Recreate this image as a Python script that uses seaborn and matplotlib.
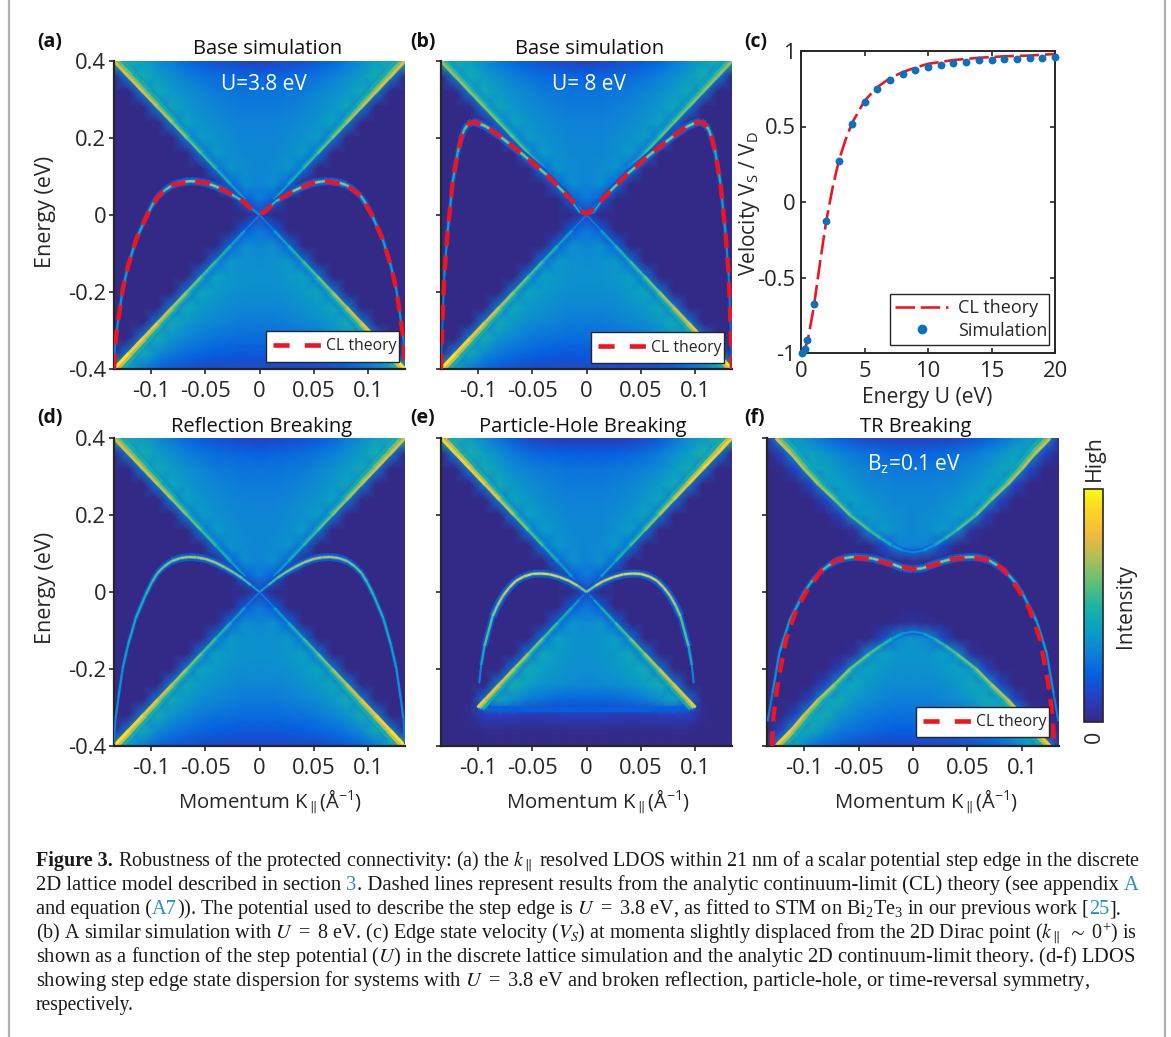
import numpy as np
import matplotlib
matplotlib.use("Agg")
import matplotlib.pyplot as plt
import seaborn as sns
from matplotlib.colors import LinearSegmentedColormap
from matplotlib.collections import LineCollection
from matplotlib.lines import Line2D

W, H = 1171, 1037
sns.set_theme(style="ticks")
plt.rcParams["font.family"] = ["Open Sans", "DejaVu Sans"]
plt.rcParams["mathtext.fontset"] = "stix"
plt.rcParams["mathtext.default"] = "regular"
plt.rcParams["axes.unicode_minus"] = False

# ---------- values ----------
# LDOS cells: rows E = 0.4 .. -0.4, columns k = -0.134 .. 0 (mirrored on the right)
BASE_Z = [
 [.50,.46,.40,.33,.27,.22,.19,.16,.14,.12,.11],
 [0,.28,.46,.39,.34,.29,.26,.24,.23,.22,.21],
 [0,0,.27,.44,.38,.34,.31,.28,.27,.26,.26],
 [0,0,0,.27,.43,.37,.33,.31,.29,.28,.28],
 [0,0,0,0,.26,.41,.36,.33,.31,.30,.30],
 [0,0,0,0,0,.26,.39,.35,.33,.31,.31],
 [0,0,0,0,0,0,.25,.38,.34,.32,.32],
 [0,0,0,0,0,0,0,.24,.36,.33,.32],
 [0,0,0,0,0,0,0,0,.22,.34,.31],
 [0,0,0,0,0,0,0,0,0,.19,.28],
 [0,0,0,0,0,0,0,0,0,0,.12],
 [0,0,0,0,0,0,0,0,0,.19,.28],
 [0,0,0,0,0,0,0,0,.22,.34,.32],
 [0,0,0,0,0,0,0,.24,.37,.35,.34],
 [0,0,0,0,0,0,.25,.40,.37,.35,.35],
 [0,0,0,0,0,.26,.42,.38,.35,.34,.34],
 [0,0,0,0,.27,.43,.38,.35,.33,.32,.32],
 [0,0,0,.27,.44,.38,.33,.31,.29,.28,.28],
 [0,0,.28,.45,.36,.31,.28,.26,.25,.24,.24],
 [0,.28,.44,.33,.27,.24,.22,.20,.19,.18,.18],
 [.50,.42,.28,.22,.18,.16,.14,.13,.13,.13,.13],
]
PH_Z = [
 [.50,.48,.40,.32,.25,.18,.13,.10,.08,.08,.08],
 [0,.28,.47,.40,.34,.28,.24,.22,.21,.20,.20],
 [0,0,.27,.45,.39,.33,.30,.28,.27,.26,.26],
 [0,0,0,.27,.44,.38,.34,.31,.29,.28,.28],
 [0,0,0,0,.26,.42,.37,.33,.31,.30,.30],
 [0,0,0,0,0,.26,.41,.36,.33,.31,.31],
 [0,0,0,0,0,0,.25,.39,.35,.32,.32],
 [0,0,0,0,0,0,0,.24,.37,.33,.32],
 [0,0,0,0,0,0,0,0,.22,.35,.30],
 [0,0,0,0,0,0,0,0,0,.19,.28],
 [0,0,0,0,0,0,0,0,0,0,.13],
 [0,0,0,0,0,0,0,0,0,.19,.28],
 [0,0,0,0,0,0,0,0,.22,.36,.33],
 [0,0,0,0,0,0,0,.24,.40,.36,.35],
 [0,0,0,0,0,0,.25,.43,.38,.36,.35],
 [0,0,0,0,0,.26,.45,.40,.37,.35,.34],
 [0,0,0,0,.27,.46,.40,.36,.34,.33,.32],
 [0,0,0,.24,.42,.34,.28,.25,.23,.22,.22],
 [0,0,.02,.10,.10,.09,.08,.08,.09,.10,.10],
 [0,0,0,.01,.01,.01,.01,.01,.01,.01,.01],
 [0,0,0,0,0,0,0,0,0,0,0],
]
TR_Z = [
 [.08,.36,.40,.31,.25,.20,.16,.13,.11,.10,.10],
 [0,.12,.38,.42,.36,.31,.27,.25,.23,.22,.22],
 [0,0,.14,.40,.42,.36,.32,.29,.28,.27,.27],
 [0,0,0,.12,.38,.40,.35,.32,.31,.30,.30],
 [0,0,0,0,.12,.38,.40,.35,.33,.32,.32],
 [0,0,0,0,0,.10,.35,.39,.35,.33,.32],
 [0,0,0,0,0,0,.04,.30,.38,.34,.32],
 [0,0,0,0,0,0,0,0,.14,.30,.31],
 [0,0,0,0,0,0,0,0,0,.02,.04],
 [0,0,0,0,0,0,0,0,0,0,0],
 [0,0,0,0,0,0,0,0,0,0,0],
 [0,0,0,0,0,0,0,0,0,0,0],
 [0,0,0,0,0,0,0,0,0,.02,.05],
 [0,0,0,0,0,0,0,0,.14,.32,.36],
 [0,0,0,0,0,0,.04,.32,.40,.36,.36],
 [0,0,0,0,0,.10,.36,.41,.37,.35,.35],
 [0,0,0,0,.12,.38,.43,.37,.34,.33,.33],
 [0,0,0,.12,.40,.44,.37,.33,.31,.29,.29],
 [0,0,.14,.42,.45,.36,.31,.28,.26,.25,.25],
 [0,.12,.40,.44,.34,.28,.25,.23,.21,.20,.20],
 [.08,.38,.40,.28,.22,.18,.15,.13,.12,.12,.12],
]

# cone ridges (right side, mirrored): k, |E|, intensity
RIDGE_K = [.134,.1206,.1072,.0938,.0804,.067,.0536,.0402,.0268,.0134,0]
RIDGE_E = [.40,.36,.32,.28,.24,.20,.16,.12,.08,.04,0]
RIDGE_UP_A = [.76,.78,.78,.74,.70,.64,.58,.52,.46,.38,.20]
RIDGE_LO_A = [.96,.92,.86,.80,.74,.68,.60,.54,.47,.38,.20]
RIDGE_UP_B = [.66,.66,.66,.64,.62,.60,.55,.50,.44,.38,.20]
RIDGE_UP_E = [.88,.90,.88,.84,.78,.70,.62,.54,.46,.38,.20]
RIDGE_LO_E = [.86,.84,.80,.76,.70,.62,.54,.46,.38,.20]
RIDGE_K_E = [.1005,.0938,.0804,.067,.0536,.0402,.0268,.0134,.0067,0]
RIDGE_E_E = [-.30,-.28,-.24,-.20,-.16,-.12,-.08,-.04,-.02,0]
BAND_E_K = [-.1,-.06,-.03,0,.03,.06,.1]
BAND_E_E = [-.302,-.304,-.304,-.304,-.304,-.304,-.302]
BAND_E_V = [.2,.2,.2,.2,.2,.2,.2]
TR_K = [.126,.112,.100,.087,.072,.058,.040,.030,.020,.010,0]
TR_E = [.40,.36,.32,.28,.24,.20,.16,.14,.122,.108,.103]
TR_V_UP = [.76,.74,.72,.70,.66,.62,.56,.52,.44,.34,.28]
TR_V_LO = [.90,.82,.78,.74,.70,.66,.60,.56,.48,.38,.32]

# edge-state curves (right side, mirrored)
EDGE_A_K = [0,.008,.0153,.023,.031,.040,.049,.057,.064,.072,.080,.087,.0935,.099,.104,.1135,.121,.126,.130,.1325,.134]
EDGE_A_E = [0,.018,.036,.049,.062,.074,.083,.087,.088,.085,.078,.065,.049,.025,-.003,-.063,-.132,-.193,-.271,-.323,-.392]
EDGE_A_V = [.2,.45,.55,.6,.68,.72,.72,.7,.72,.7,.68,.6,.58,.55,.5,.45,.42,.38,.35,.3,.25]
EDGE_B_K = [0,.006,.016,.0374,.059,.080,.092,.099,.105,.109,.1126,.1155,.1187,.1233,.128,.131,.1325,.134]
EDGE_B_E = [0,.006,.045,.106,.158,.205,.229,.238,.242,.236,.222,.198,.162,.084,-.046,-.158,-.271,-.392]
EDGE_B_V = [.2,.3,.6,.66,.68,.7,.7,.72,.72,.66,.6,.55,.5,.45,.38,.3,.25,.2]
EDGE_D_K = [0,.008,.016,.024,.032,.041,.050,.058,.065,.073,.081,.088,.094,.099,.105,.114,.121,.126,.130,.1325,.134]
EDGE_D_E = [0,.018,.036,.051,.064,.077,.086,.090,.091,.088,.080,.066,.049,.026,-.008,-.068,-.137,-.198,-.276,-.328,-.395]
EDGE_D_V = [.3,.5,.6,.66,.7,.74,.74,.74,.74,.72,.66,.62,.58,.54,.5,.46,.42,.38,.34,.3,.24]
EDGE_E_K = [0,.008,.016,.025,.034,.042,.050,.058,.065,.071,.077,.082,.0865,.094,.097,.0988]
EDGE_E_E = [0,.016,.029,.039,.046,.048,.047,.040,.029,.012,-.010,-.035,-.063,-.141,-.190,-.237]
EDGE_E_V = [.5,.8,.84,.86,.88,.88,.88,.86,.84,.82,.78,.72,.66,.5,.38,.2]
EDGE_F_K = [0,.009,.0184,.028,.037,.046,.055,.063,.0706,.078,.086,.094,.101,.1135,.1227,.129,.1334]
EDGE_F_E = [.059,.062,.072,.080,.087,.090,.091,.088,.081,.068,.050,.024,-.006,-.076,-.158,-.263,-.336]
EDGE_F_V = [.72,.72,.72,.72,.7,.7,.7,.7,.66,.6,.55,.5,.48,.42,.38,.32,.25]

# dashed continuum-limit theory curves
CL_A_K = [.004,.0153,.031,.049,.064,.080,.0935,.104,.1135,.121,.126,.130,.1325,.134]
CL_A_E = [.006,.036,.062,.084,.087,.078,.049,-.003,-.063,-.132,-.193,-.271,-.323,-.40]
CL_B_K = [0,.005,.016,.0374,.059,.080,.092,.099,.105,.109,.1126,.1155,.1187,.1233,.128,.131,.1325,.134]
CL_B_E = [.003,.012,.045,.106,.158,.205,.229,.238,.242,.236,.222,.198,.162,.084,-.046,-.158,-.271,-.40]
CL_F_K = [0,.0184,.037,.055,.0706,.083,.0966,.107,.1166,.124,.128,.1295]
CL_F_E = [.059,.070,.086,.089,.083,.059,.007,-.045,-.123,-.236,-.32,-.40]

# panel (c)
CL_U = [.1,.5,1,1.5,2,2.5,3,3.5,4,5,6,7,8,9,10,12,14,16,18,20]
CL_V = [-1,-.93,-.70,-.40,-.12,.10,.28,.41,.52,.67,.76,.82,.86,.89,.915,.94,.955,.965,.97,.98]
SIM_U = [.1,.3,.5,1,2,3,4,5,6,7,8,9,10,11,12,13,14,15,16,17,18,19,20]
SIM_V = [-1.0,-.975,-.915,-.675,-.125,.27,.515,.66,.75,.81,.85,.875,.895,.91,.92,.93,.94,.943,.947,.95,.953,.955,.958]

X_TICKS = [-.1,-.05,0,.05,.1]
X_LABELS = ["-0.1","-0.05","0","0.05","0.1"]
Y_TICKS = [-.4,-.2,0,.2,.4]
Y_LABELS = ["-0.4","-0.2","0","0.2","0.4"]
C_X_TICKS = [0,5,10,15,20]
C_X_LABELS = ["0","5","10","15","20"]
C_Y_TICKS = [-1,-.5,0,.5,1]
C_Y_LABELS = ["-1","-0.5","0","0.5","1"]

CAPTION = [
 [("Figure 3.","b"),(" Robustness of the protected connectivity: (a) the $\\mathit{k}_{\\parallel}$ resolved LDOS within 21 nm of a scalar potential step edge in the discrete","k")],
 [("2D lattice model described in section ","k"),("3","l"),(". Dashed lines represent results from the analytic continuum-limit (CL) theory (see appendix ","k"),("A","l")],
 [("and equation (","k"),("A7","l"),(")). The potential used to describe the step edge is $\\mathit{U}\\ =\\ 3.8$ eV, as fitted to STM on Bi$_2$Te$_3$ in our previous work [","k"),("25","l"),("].","k")],
 [("(b) A similar simulation with $\\mathit{U}\\ =\\ 8$ eV. (c) Edge state velocity ($\\mathit{V}_{\\mathit{S}}$) at momenta slightly displaced from the 2D Dirac point ($\\mathit{k}_{\\parallel}\\ \\sim\\ 0^{+}$) is","k")],
 [("shown as a function of the step potential ($\\mathit{U}$) in the discrete lattice simulation and the analytic 2D continuum-limit theory. (d-f) LDOS","k")],
 [("showing step edge state dispersion for systems with $\\mathit{U}\\ =\\ 3.8$ eV and broken reflection, particle-hole, or time-reversal symmetry,","k")],
 [("respectively.","k")],
]
CAPTION_Y = [866,890,914,938,962,986,1010]
CAPTION_END = [1138,1138,1118,1139,1134,1087,134]

# ---------- style ----------
CMAP = LinearSegmentedColormap.from_list("parula_like", [
 (0.00,(51/255,42/255,135/255)),(0.10,(40/255,62/255,190/255)),(0.20,(5/255,95/255,225/255)),
 (0.30,(15/255,130/255,215/255)),(0.40,(10/255,160/255,195/255)),(0.50,(30/255,180/255,160/255)),
 (0.60,(100/255,190/255,120/255)),(0.70,(170/255,190/255,90/255)),(0.80,(240/255,185/255,60/255)),
 (0.90,(250/255,210/255,40/255)),(1.00,(250/255,250/255,20/255))])
DARK = "#262626"
RED = "#f0141e"
TS = 14.5
TICK = 15.8
XLIM = (-.134,.134); YLIM = (-.4,.4)

fig = plt.figure(figsize=(W/100,H/100),dpi=100,facecolor="white")
def box(x0,x1,y0,y1):
    return [x0/W,1-y1/H,(x1-x0)/W,(y1-y0)/H]
def ftext(x,y,s,**kw):
    kw.setdefault("ha","center"); kw.setdefault("va","center"); kw.setdefault("color",DARK)
    return fig.text(x/W,1-y/H,s,**kw)
def px(p):
    return p*0.72

def colored(ax,k,e,v,lw,zorder=3):
    pts = np.column_stack([k,e]).reshape(-1,1,2)
    segs = np.concatenate([pts[:-1],pts[1:]],axis=1)
    v = np.asarray(v,float)
    lc = LineCollection(segs,cmap=CMAP,norm=plt.Normalize(0,1),linewidths=lw,capstyle="butt",zorder=zorder)
    lc.set_array((v[:-1]+v[1:])/2)
    ax.add_collection(lc)

def both(ax,k,e,v,lw,zorder=3):
    k = np.asarray(k)
    colored(ax,k,e,v,lw,zorder); colored(ax,-k,e,v,lw,zorder)

def ridge(ax,k,e,v):
    # sharp towards the dark outside of the cone, gradual towards its inside
    k = np.asarray(k,float); e = np.asarray(e,float); v = np.asarray(v,float)
    frac = np.abs((e[:-1]+e[1:])/2)/.4
    shift = np.abs(e)/.4
    both(ax,k-.0042*shift,e,np.minimum(v*.6,.46),px(2.5)+px(8)*frac,zorder=2)
    both(ax,k-.0018*shift,e,v*.8,px(1.5)+px(4.5)*frac,zorder=2)
    both(ax,k,e,v,px(1)+px(2)*frac,zorder=2)

def edge(ax,k,e,v):
    k = np.asarray(k); v = np.asarray(v,float)
    s = np.clip(((v[:-1]+v[1:])/2-.25)/.45,0,1)
    both(ax,k,e,np.clip(v*0.26,0,.18),px(1.5)+px(6.5)*s,zorder=3)
    both(ax,k,e,np.clip(v*0.5,0,.36),px(1.2)+px(2.5)*s,zorder=4)
    both(ax,k,e,v,px(2.1),zorder=5)

def cl(ax,k,e):
    k = np.asarray(k)
    full_k = np.concatenate([-k[::-1],k]); full_e = np.concatenate([e[::-1],e])
    sns.lineplot(x=full_k,y=full_e,ax=ax,sort=False,estimator=None,color=RED,lw=px(4.4),
                 zorder=6)
    ax.lines[-1].set_dashes((3.4,2.2))
    ax.lines[-1].set_dash_capstyle("butt")

def panel(rect,z,label_y=False):
    z = np.asarray(z,float)
    full = np.hstack([z,z[:,-2::-1]])
    hax = fig.add_axes(box(*rect))
    sns.heatmap(full,ax=hax,cmap=CMAP,vmin=0,vmax=1,cbar=False,shading="gouraud",
                xticklabels=False,yticklabels=False)
    hax.set_xlim(0,full.shape[1]-1); hax.set_ylim(full.shape[0]-1,0)
    hax.axis("off")
    ax = fig.add_axes(box(*rect),facecolor="none")
    ax.set_xlim(*XLIM); ax.set_ylim(*YLIM)
    ax.set_xticks(X_TICKS); ax.set_xticklabels(X_LABELS,fontsize=TICK,color=DARK)
    ax.set_yticks(Y_TICKS); ax.set_yticklabels(Y_LABELS if label_y else [],fontsize=TICK,color=DARK)
    ax.tick_params(length=3.5,width=1.2,color=DARK)
    ax.tick_params(axis="x",pad=5); ax.tick_params(axis="y",pad=2)
    for s in ["top","right"]:
        ax.spines[s].set_visible(False)
    for s in ["left","bottom"]:
        ax.spines[s].set_linewidth(1.6); ax.spines[s].set_color(DARK)
    ax._hm = hax.collections[0]
    return ax

def legend(ax,x0,x1,y0,y1,rect):
    ax.legend(handles=[Line2D([],[],color=RED,lw=px(4.6),dashes=(3.5,3.3),dash_capstyle="butt")],
              labels=["CL theory"],loc="center",fontsize=11.3,
              bbox_to_anchor=((x0-rect[0])/(rect[1]-rect[0]),(rect[3]-y1)/(rect[3]-rect[2]),
                              (x1-x0)/(rect[1]-rect[0]),(y1-y0)/(rect[3]-rect[2])),
              mode="expand",borderaxespad=0,frameon=True,fancybox=False,framealpha=1,
              edgecolor=DARK,handlelength=3.05,handletextpad=.35,borderpad=.45,labelcolor=DARK).set_zorder(10)

# ---------- panels ----------
RA = (114,405,61,369); RB = (441,732,61,369)
RD = (114,405,438,746); RE = (441,732,438,746); RF = (767,1059,438,746)
LOW_E = -np.array(RIDGE_E)

a = panel(RA,BASE_Z,label_y=True)
ridge(a,RIDGE_K,RIDGE_E,RIDGE_UP_A); ridge(a,RIDGE_K,LOW_E,RIDGE_LO_A)
edge(a,EDGE_A_K,EDGE_A_E,EDGE_A_V); cl(a,CL_A_K,CL_A_E); legend(a,266,399,332,361,RA)

b = panel(RB,BASE_Z)
ridge(b,RIDGE_K,RIDGE_E,RIDGE_UP_B); ridge(b,RIDGE_K,LOW_E,RIDGE_LO_A)
edge(b,EDGE_B_K,EDGE_B_E,EDGE_B_V); cl(b,CL_B_K,CL_B_E); legend(b,591,724,333,362,RB)

d = panel(RD,BASE_Z,label_y=True)
ridge(d,RIDGE_K,RIDGE_E,RIDGE_UP_A); ridge(d,RIDGE_K,LOW_E,RIDGE_LO_A)
edge(d,EDGE_D_K,EDGE_D_E,EDGE_D_V)

e = panel(RE,PH_Z)
colored(e,BAND_E_K,BAND_E_E,BAND_E_V,px(5),zorder=2)
ridge(e,RIDGE_K,RIDGE_E,RIDGE_UP_E); ridge(e,RIDGE_K_E,RIDGE_E_E,RIDGE_LO_E)
edge(e,EDGE_E_K,EDGE_E_E,EDGE_E_V)

f = panel(RF,TR_Z)
ridge(f,TR_K,TR_E,TR_V_UP); ridge(f,TR_K,-np.array(TR_E),TR_V_LO)
edge(f,EDGE_F_K,EDGE_F_E,EDGE_F_V); cl(f,CL_F_K,CL_F_E); legend(f,916,1049,708,736,RF)

# panel (c)
RC = (801,1055,51,353)
c = fig.add_axes(box(*RC))
sns.lineplot(x=CL_U,y=CL_V,ax=c,sort=False,estimator=None,color=RED,lw=px(2.6),zorder=2)
c.lines[-1].set_dashes((7.5,2.2))
sns.scatterplot(x=SIM_U,y=SIM_V,ax=c,color="#0a72bd",s=32,linewidth=0,zorder=3,clip_on=False)
c.set_xlim(0,20); c.set_ylim(-1,1)
c.set_xticks(C_X_TICKS); c.set_xticklabels(C_X_LABELS,fontsize=TICK,color=DARK)
c.set_yticks(C_Y_TICKS); c.set_yticklabels(C_Y_LABELS,fontsize=TICK,color=DARK)
c.tick_params(direction="in",length=3.5,width=1.2,top=True,right=True,color=DARK)
c.tick_params(axis="x",pad=6); c.tick_params(axis="y",pad=4)
for s in c.spines.values():
    s.set_linewidth(1.4); s.set_color(DARK)
c.legend(handles=[Line2D([],[],color=RED,lw=px(2.6),dashes=(7.5,2.2)),
                  Line2D([],[],color="#0a72bd",marker="o",ms=7,ls="none",mew=0)],
         labels=["CL theory","Simulation"],loc="center",fontsize=13,
         bbox_to_anchor=((890-801)/254,(353-345)/302,(1049-890)/254,(345-294)/302),
         mode="expand",borderaxespad=0,frameon=True,fancybox=False,framealpha=1,edgecolor=DARK,
         handlelength=2.9,handletextpad=.55,borderpad=.3,labelspacing=.25,labelcolor=DARK)

# colorbar
cax = fig.add_axes(box(1084,1103,489,722))
cb = fig.colorbar(a._hm,cax=cax)
cb.set_ticks([]); cb.outline.set_linewidth(1.2); cb.outline.set_edgecolor(DARK)
ftext(1094,458,"High",rotation=90,fontsize=15.4)
ftext(1094,737,"0",rotation=90,fontsize=15.4)
ftext(1125,606,"Intensity",rotation=90,fontsize=15)

# texts
for x,y,s in [(37,42,"(a)"),(410,42,"(b)"),(744,42,"(c)"),(37,418,"(d)"),(410,418,"(e)"),(744,418,"(f)")]:
    ftext(x,y,s,ha="left",fontsize=14,fontweight="bold",color="#111111")
for x,y,s in [(268,49,"Base simulation"),(590,49,"Base simulation"),(262,427,"Reflection Breaking"),
              (583,427,"Particle-Hole Breaking"),(916,427,"TR Breaking")]:
    ftext(x,y,s,fontsize=TS,color="#111111")
ftext(264,84,"U=3.8 eV",fontsize=15,color="white")
ftext(589,84,"U= 8 eV",fontsize=15,color="white")
ftext(914,464,"B$_{z}$=0.1 eV",fontsize=15,color="white")
ftext(46,212,"Energy (eV)",rotation=90,fontsize=15.5)
ftext(46,588,"Energy (eV)",rotation=90,fontsize=15.5)
for x in [270,598,926]:
    ftext(x,802,"Momentum K$_{\\parallel}$(Å$^{-1}$)",fontsize=14.6)
ftext(749,204,"Velocity V$_{S}$ / V$_{D}$",rotation=90,fontsize=15)
ftext(927,397,"Energy U (eV)",fontsize=15.2)

# caption, each line fitted to its measured width
rend = fig.canvas.get_renderer()
STYLE = {"k":dict(color="#1a1a1a"),"l":dict(color="#2a8fc0"),"b":dict(color="#1a1a1a",fontweight="bold")}
def width(s,kind,size):
    def w(t):
        tx = fig.text(0,0,t,family="Liberation Serif",fontsize=size,**STYLE[kind])
        r = tx.get_window_extent(rend).width
        tx.remove()
        return r
    return w("|"+s+"|")-w("||")
for pieces,y,end in zip(CAPTION,CAPTION_Y,CAPTION_END):
    size = 13.6
    total = sum(width(s,kd,size) for s,kd in pieces)
    size = size*(end-36)/total
    x = 36
    for s,kd in pieces:
        fig.text(x/W,1-y/H,s,family="Liberation Serif",fontsize=size,va="baseline",ha="left",**STYLE[kd])
        x += width(s,kd,size)

# page frame
for x in [8.5,1165]:
    fig.add_artist(Line2D([x/W,x/W],[0,1],color="#b0b0b0",lw=1.6))

fig.savefig("out.png",dpi=100,facecolor="white")
